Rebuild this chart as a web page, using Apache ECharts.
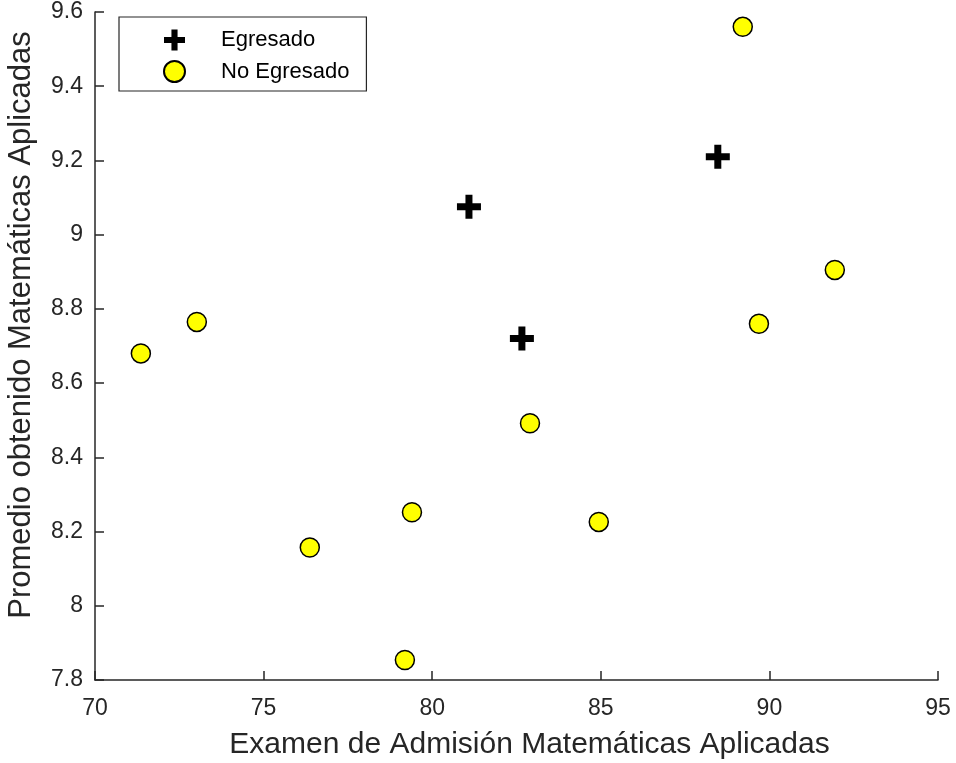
<!DOCTYPE html>
<html>
<head>
<meta charset="utf-8">
<script src="https://cdn.jsdelivr.net/npm/echarts@6/dist/echarts.min.js"></script>
<style>
  html, body { margin: 0; padding: 0; background: #fff; }
  #chart { width: 956px; height: 763px; }
</style>
</head>
<body>
<div id="chart"></div>
<script>
// datos
const egresadoX = [81.09, 88.47, 82.66];
const egresadoY = [9.075, 9.21, 8.72];

const noEgresadoX = [89.21, 91.94, 89.69, 73.02, 71.36, 82.90, 79.40, 84.94, 76.37, 79.19];
const noEgresadoY = [9.56, 8.905, 8.76, 8.765, 8.68, 8.492, 8.252, 8.226, 8.157, 7.854];

const seriesNames = ['Egresado', 'No Egresado'];

const plusIcon = 'path://M8.5,0h7v8.5h8.5v7h-8.5v8.5h-7v-8.5h-8.5v-7h8.5z';
const ink = '#262626';
const font = 'Liberation Sans, Arial, sans-serif';

function pairs(xs, ys) {
  return xs.map((x, i) => [x, ys[i]]);
}

const chart = echarts.init(document.getElementById('chart'), null, { renderer: 'canvas' });

chart.setOption({
  animation: false,
  backgroundColor: '#fff',
  grid: { left: 95, right: 18, top: 12, bottom: 83, outerBoundsMode: 'none' },
  legend: {
    data: seriesNames,
    orient: 'vertical',
    left: 119,
    top: 17,
    padding: [12, 17, 8, 44],
    itemGap: 9,
    itemWidth: 21,
    itemHeight: 21,
    borderColor: ink,
    borderWidth: 1.2,
    backgroundColor: '#fff',
    textStyle: { fontFamily: font, fontSize: 22, color: '#000', padding: [0, 0, 0, 31] }
  },
  xAxis: {
    type: 'value',
    min: 70,
    max: 95,
    interval: 5,
    name: 'Examen de Admisión Matemáticas Aplicadas',
    nameLocation: 'middle',
    nameGap: 50,
    nameTextStyle: { fontFamily: font, fontSize: 30, color: ink, padding: [0, 0, 0, 26] },
    axisLine: { show: true, lineStyle: { color: ink, width: 1.5 } },
    axisTick: { show: true, inside: true, length: 9, lineStyle: { color: ink, width: 1.5 } },
    axisLabel: { fontFamily: font, fontSize: 23, color: ink, margin: 17 },
    splitLine: { show: false }
  },
  yAxis: {
    type: 'value',
    min: 7.8,
    max: 9.6,
    interval: 0.2,
    name: 'Promedio obtenido Matemáticas Aplicadas',
    nameLocation: 'middle',
    nameGap: 58,
    nameTextStyle: { fontFamily: font, fontSize: 31, color: ink, padding: [0, 0, 0, 42] },
    axisLine: { show: true, lineStyle: { color: ink, width: 1.5 } },
    axisTick: { show: true, inside: true, length: 9, lineStyle: { color: ink, width: 1.5 } },
    axisLabel: { fontFamily: font, fontSize: 23, color: ink, margin: 12 },
    splitLine: { show: false }
  },
  series: [
    {
      name: seriesNames[0],
      type: 'scatter',
      symbol: plusIcon,
      symbolSize: 24,
      itemStyle: { color: '#000', opacity: 1 },
      data: pairs(egresadoX, egresadoY),
      z: 3
    },
    {
      name: seriesNames[1],
      type: 'scatter',
      symbol: 'circle',
      symbolSize: 19,
      itemStyle: { color: '#ffff00', borderColor: '#000', borderWidth: 1.5, opacity: 1 },
      data: pairs(noEgresadoX, noEgresadoY),
      z: 2
    }
  ]
});
</script>
</body>
</html>
